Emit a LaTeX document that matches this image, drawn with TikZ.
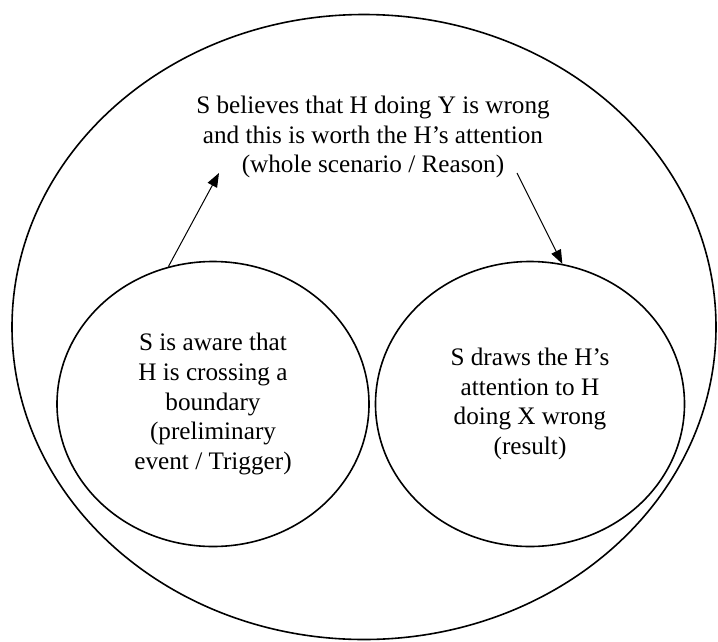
\documentclass[tikz,border=0pt]{standalone}
\usepackage{fontspec}
\setmainfont{Liberation Serif}
\usepackage{tikz}
\usetikzlibrary{arrows.meta,shapes.geometric}

\begin{document}
\begin{tikzpicture}[x=1pt, y=-1pt, >={Triangle[length=14pt,width=10.5pt]},
  bubble/.style={draw, line width=1.6pt, ellipse, inner sep=0pt, align=center},
  label text/.style={align=center, font=\fontsize{25.2}{29.6}\selectfont}]
  \useasboundingbox (0,0) rectangle (718,641);
  \node[bubble, minimum width=704pt, minimum height=625pt] (scenario) at (364,327) {};
  \node[label text] (reason) at (373,137)
  {S believes that H doing Y is wrong\\and this is worth the H’s attention\\(whole scenario / Reason)};
  \node[bubble, label text, minimum width=312pt, minimum height=285pt] (trigger) at (213,404)
  {S is aware that\\H is crossing a\\boundary\\(preliminary\\event / Trigger)};
  \node[bubble, label text, minimum width=309pt, minimum height=285pt] (result) at (530,404)
  {S draws the H’s\\attention to H\\doing X wrong\\(result)};
  \coordinate (up tip) at (219,173);
  \coordinate (down start) at (517,173);
  \draw[->, line width=1pt] (trigger.108) -- (up tip);
  \draw[->, line width=1pt] (down start) -- (result.77);
\end{tikzpicture}
\end{document}
